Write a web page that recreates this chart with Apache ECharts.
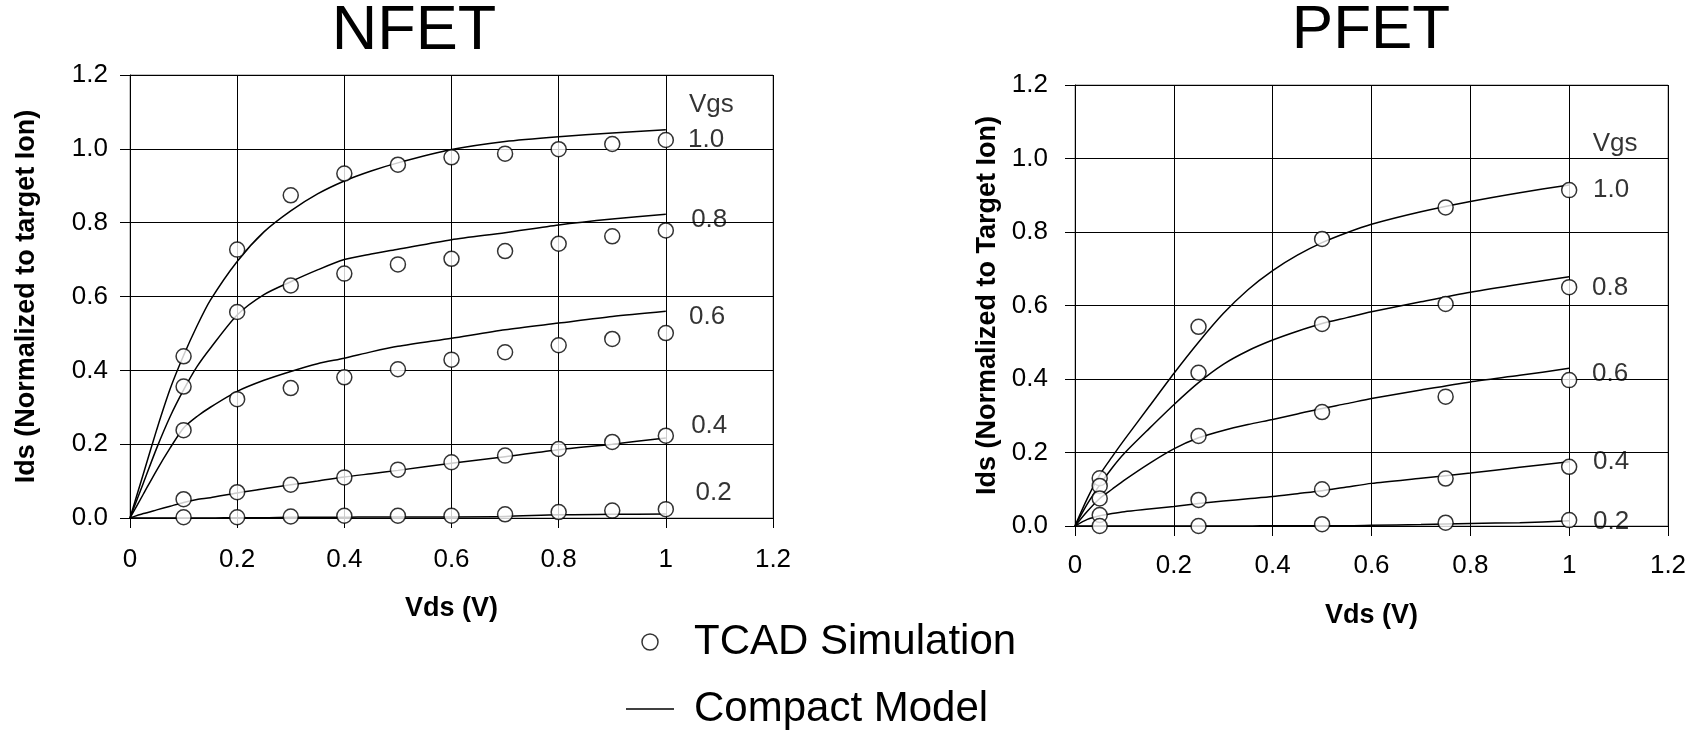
<!DOCTYPE html>
<html>
<head>
<meta charset="utf-8">
<script src="https://cdn.jsdelivr.net/npm/echarts@6/dist/echarts.min.js"></script>
<style>
html,body{margin:0;padding:0;background:#fff;}
#chart{width:1698px;height:731px;}
</style>
</head>
<body>
<div id="chart"></div>
<script>
// ---------- NFET data ----------
const nTcadVds = [0.1, 0.2, 0.3, 0.4, 0.5, 0.6, 0.7, 0.8, 0.9, 1.0];
const nTcad10 = [0.438, 0.727, 0.874, 0.933, 0.957, 0.977, 0.987, 0.999, 1.013, 1.024];
const nTcad08 = [0.356, 0.558, 0.630, 0.662, 0.687, 0.702, 0.723, 0.743, 0.763, 0.779];
const nTcad06 = [0.238, 0.322, 0.352, 0.381, 0.403, 0.429, 0.449, 0.468, 0.485, 0.501];
const nTcad04 = [0.051, 0.070, 0.090, 0.110, 0.131, 0.151, 0.169, 0.187, 0.206, 0.223];
const nTcad02 = [0.002, 0.002, 0.004, 0.006, 0.006, 0.006, 0.010, 0.016, 0.020, 0.024];

const nModelVds = [0, 0.025, 0.05, 0.075, 0.1, 0.125, 0.15, 0.2, 0.25, 0.3, 0.35, 0.4, 0.45, 0.5, 0.6, 0.7, 0.8, 0.9, 1.0];
const nModel10 = [0, 0.12, 0.24, 0.35, 0.44, 0.52, 0.59, 0.695, 0.775, 0.832, 0.878, 0.913, 0.94, 0.962, 0.998, 1.02, 1.033, 1.043, 1.052];
const nModel08 = [0, 0.095, 0.19, 0.275, 0.347, 0.41, 0.46, 0.55, 0.605, 0.64, 0.672, 0.70, 0.715, 0.728, 0.754, 0.773, 0.794, 0.81, 0.823];
const nModel06 = [0, 0.065, 0.13, 0.19, 0.244, 0.275, 0.30, 0.343, 0.373, 0.397, 0.418, 0.433, 0.45, 0.465, 0.487, 0.51, 0.528, 0.546, 0.56];
const nModel04 = [0, 0.012, 0.022, 0.032, 0.042, 0.05, 0.055, 0.068, 0.079, 0.09, 0.1, 0.111, 0.12, 0.129, 0.148, 0.166, 0.185, 0.2, 0.217];
const nModel02 = [0, 0, 0, 0, 0, 0, 0, 0.001, 0.001, 0.002, 0.002, 0.002, 0.003, 0.003, 0.003, 0.004, 0.009, 0.010, 0.011];

const nLabelText = ['Vgs', '1.0', '0.8', '0.6', '0.4', '0.2'];
const nLabelX = [1.085, 1.075, 1.081, 1.077, 1.081, 1.089];
const nLabelY = [1.119, 1.024, 0.808, 0.546, 0.250, 0.068];

// ---------- PFET data ----------
const pTcadVds = [0.05, 0.25, 0.5, 0.75, 1.0];
const pTcad10 = [0.130, 0.542, 0.781, 0.867, 0.914];
const pTcad08 = [0.109, 0.417, 0.550, 0.604, 0.650];
const pTcad06 = [0.075, 0.245, 0.310, 0.352, 0.397];
const pTcad04 = [0.030, 0.071, 0.100, 0.129, 0.161];
const pTcad02 = [0.000, 0.000, 0.005, 0.009, 0.016];

const pModelVds = [0, 0.025, 0.05, 0.075, 0.1, 0.15, 0.2, 0.25, 0.3, 0.35, 0.4, 0.45, 0.5, 0.55, 0.6, 0.7, 0.8, 0.9, 1.0];
const pModel10 = [0, 0.075, 0.139, 0.188, 0.235, 0.325, 0.415, 0.50, 0.578, 0.643, 0.695, 0.737, 0.771, 0.798, 0.821, 0.855, 0.883, 0.907, 0.928];
const pModel08 = [0, 0.06, 0.112, 0.158, 0.198, 0.265, 0.33, 0.39, 0.44, 0.477, 0.506, 0.53, 0.551, 0.567, 0.583, 0.61, 0.636, 0.658, 0.678];
const pModel06 = [0, 0.04, 0.075, 0.10, 0.125, 0.17, 0.21, 0.24, 0.26, 0.276, 0.29, 0.305, 0.32, 0.333, 0.347, 0.37, 0.392, 0.41, 0.429];
const pModel04 = [0, 0.018, 0.028, 0.034, 0.039, 0.046, 0.053, 0.061, 0.068, 0.074, 0.08, 0.088, 0.096, 0.106, 0.116, 0.13, 0.144, 0.16, 0.175];
const pModel02 = [0, 0, 0, 0, 0, 0, 0, 0, 0, 0, 0.001, 0.001, 0.001, 0.001, 0.002, 0.004, 0.007, 0.009, 0.014];

const pLabelText = ['Vgs', '1.0', '0.8', '0.6', '0.4', '0.2'];
const pLabelX = [1.093, 1.085, 1.083, 1.083, 1.085, 1.085];
const pLabelY = [1.039, 0.914, 0.647, 0.415, 0.175, 0.012];

const xTicks = [0, 0.2, 0.4, 0.6, 0.8, 1.0, 1.2];
const yTicks = [0, 0.2, 0.4, 0.6, 0.8, 1.0, 1.2];

// ---------- helpers ----------
const FONT = '"Liberation Sans", Arial, sans-serif';
const zip = (xs, ys) => xs.map((x, i) => [x, ys[i]]);

function modelSeries(idx, xs, ys) {
  return {
    name: 'Compact Model', type: 'line', xAxisIndex: idx, yAxisIndex: idx,
    data: zip(xs, ys), symbol: 'none', smooth: 0.25, z: 2,
    lineStyle: { color: '#000', width: 1.5 }, itemStyle: { color: '#000' },
    animation: false
  };
}
function tcadSeries(idx, xs, ys) {
  return {
    name: 'TCAD Simulation', type: 'scatter', xAxisIndex: idx, yAxisIndex: idx,
    data: zip(xs, ys), symbol: 'circle', symbolSize: 15, z: 5,
    itemStyle: { color: '#fff', borderColor: '#000', borderWidth: 1.5 },
    animation: false
  };
}
function labelSeries(idx, texts, xs, ys) {
  return {
    name: 'Vgs labels', type: 'scatter', xAxisIndex: idx, yAxisIndex: idx,
    data: texts.map((t, i) => ({ name: t, value: [xs[i], ys[i]] })),
    symbolSize: 1, itemStyle: { color: 'rgba(0,0,0,0)' }, z: 6, silent: true,
    label: { show: true, position: 'inside', formatter: '{b}', color: '#000', fontSize: 26, fontFamily: FONT },
    animation: false
  };
}
function xAx(idx, labelMargin, nameGap) {
  return {
    type: 'value', gridIndex: idx, min: xTicks[0], max: xTicks[xTicks.length - 1],
    interval: xTicks[1] - xTicks[0],
    name: 'Vds (V)', nameLocation: 'middle', nameGap: nameGap,
    nameTextStyle: { fontSize: 27, fontWeight: 'bold', color: '#000', fontFamily: FONT },
    axisLine: { show: true, onZero: false, lineStyle: { color: '#000', width: 1 } },
    axisTick: { show: true, length: 10, inside: false, lineStyle: { color: '#000' } },
    axisLabel: { fontSize: 26, color: '#000', fontFamily: FONT, margin: labelMargin },
    splitLine: { show: true, lineStyle: { color: '#000', width: 1 } }
  };
}
function yAx(idx, name, labelMargin, nameGap) {
  return {
    type: 'value', gridIndex: idx, min: yTicks[0], max: yTicks[yTicks.length - 1],
    interval: yTicks[1] - yTicks[0],
    name: name, nameLocation: 'middle', nameGap: nameGap,
    nameTextStyle: { fontSize: 27, fontWeight: 'bold', color: '#000', fontFamily: FONT },
    axisLine: { show: true, onZero: false, lineStyle: { color: '#000', width: 1 } },
    axisTick: { show: true, length: 10, inside: false, lineStyle: { color: '#000' } },
    axisLabel: { fontSize: 26, color: '#000', fontFamily: FONT, margin: labelMargin,
      formatter: v => v.toFixed(1) },
    splitLine: { show: true, lineStyle: { color: '#000', width: 1 } }
  };
}

const chart = echarts.init(document.getElementById('chart'), null, { renderer: 'canvas' });
chart.setOption({
  backgroundColor: '#fff',
  animation: false,
  textStyle: { fontFamily: FONT },
  title: [
    { text: 'NFET', left: 414, top: 0, padding: 0, textAlign: 'center',
      textStyle: { fontSize: 63, fontWeight: 'normal', color: '#000', fontFamily: FONT } },
    { text: 'PFET', left: 1371, top: 0, padding: 0, textAlign: 'center',
      textStyle: { fontSize: 62, fontWeight: 'normal', color: '#000', fontFamily: FONT } }
  ],
  grid: [
    { left: 130, top: 75, width: 643, height: 443, show: true, borderColor: '#888', borderWidth: 1, backgroundColor: 'transparent' },
    { left: 1075, top: 85, width: 593, height: 441, show: true, borderColor: '#888', borderWidth: 1, backgroundColor: 'transparent' }
  ],
  xAxis: [xAx(0, 29, 77), xAx(1, 27, 76)],
  yAxis: [yAx(0, 'Ids (Normalized to target Ion)', 22, 90), yAx(1, 'Ids (Normalized to Target Ion)', 27, 74)],
  legend: {
    orient: 'vertical', left: 626, top: 621, padding: 0,
    itemWidth: 48, itemHeight: 16, itemGap: 25, selectedMode: false, symbolKeepAspect: true,
    textStyle: { fontSize: 42, color: '#000', fontFamily: FONT, padding: [0, 0, 0, 15] },
    data: [
      { name: 'TCAD Simulation', icon: 'circle',
        itemStyle: { color: '#fff', borderColor: '#000', borderWidth: 1.5 } },
      { name: 'Compact Model', icon: 'path://M0,0H48V1.6H0Z',
        itemStyle: { color: '#000', borderWidth: 0 } }
    ]
  },
  series: [
    modelSeries(0, nModelVds, nModel10),
    modelSeries(0, nModelVds, nModel08),
    modelSeries(0, nModelVds, nModel06),
    modelSeries(0, nModelVds, nModel04),
    modelSeries(0, nModelVds, nModel02),
    tcadSeries(0, nTcadVds, nTcad10),
    tcadSeries(0, nTcadVds, nTcad08),
    tcadSeries(0, nTcadVds, nTcad06),
    tcadSeries(0, nTcadVds, nTcad04),
    tcadSeries(0, nTcadVds, nTcad02),
    labelSeries(0, nLabelText, nLabelX, nLabelY),
    modelSeries(1, pModelVds, pModel10),
    modelSeries(1, pModelVds, pModel08),
    modelSeries(1, pModelVds, pModel06),
    modelSeries(1, pModelVds, pModel04),
    modelSeries(1, pModelVds, pModel02),
    tcadSeries(1, pTcadVds, pTcad10),
    tcadSeries(1, pTcadVds, pTcad08),
    tcadSeries(1, pTcadVds, pTcad06),
    tcadSeries(1, pTcadVds, pTcad04),
    tcadSeries(1, pTcadVds, pTcad02),
    labelSeries(1, pLabelText, pLabelX, pLabelY)
  ]
});
</script>
</body>
</html>
